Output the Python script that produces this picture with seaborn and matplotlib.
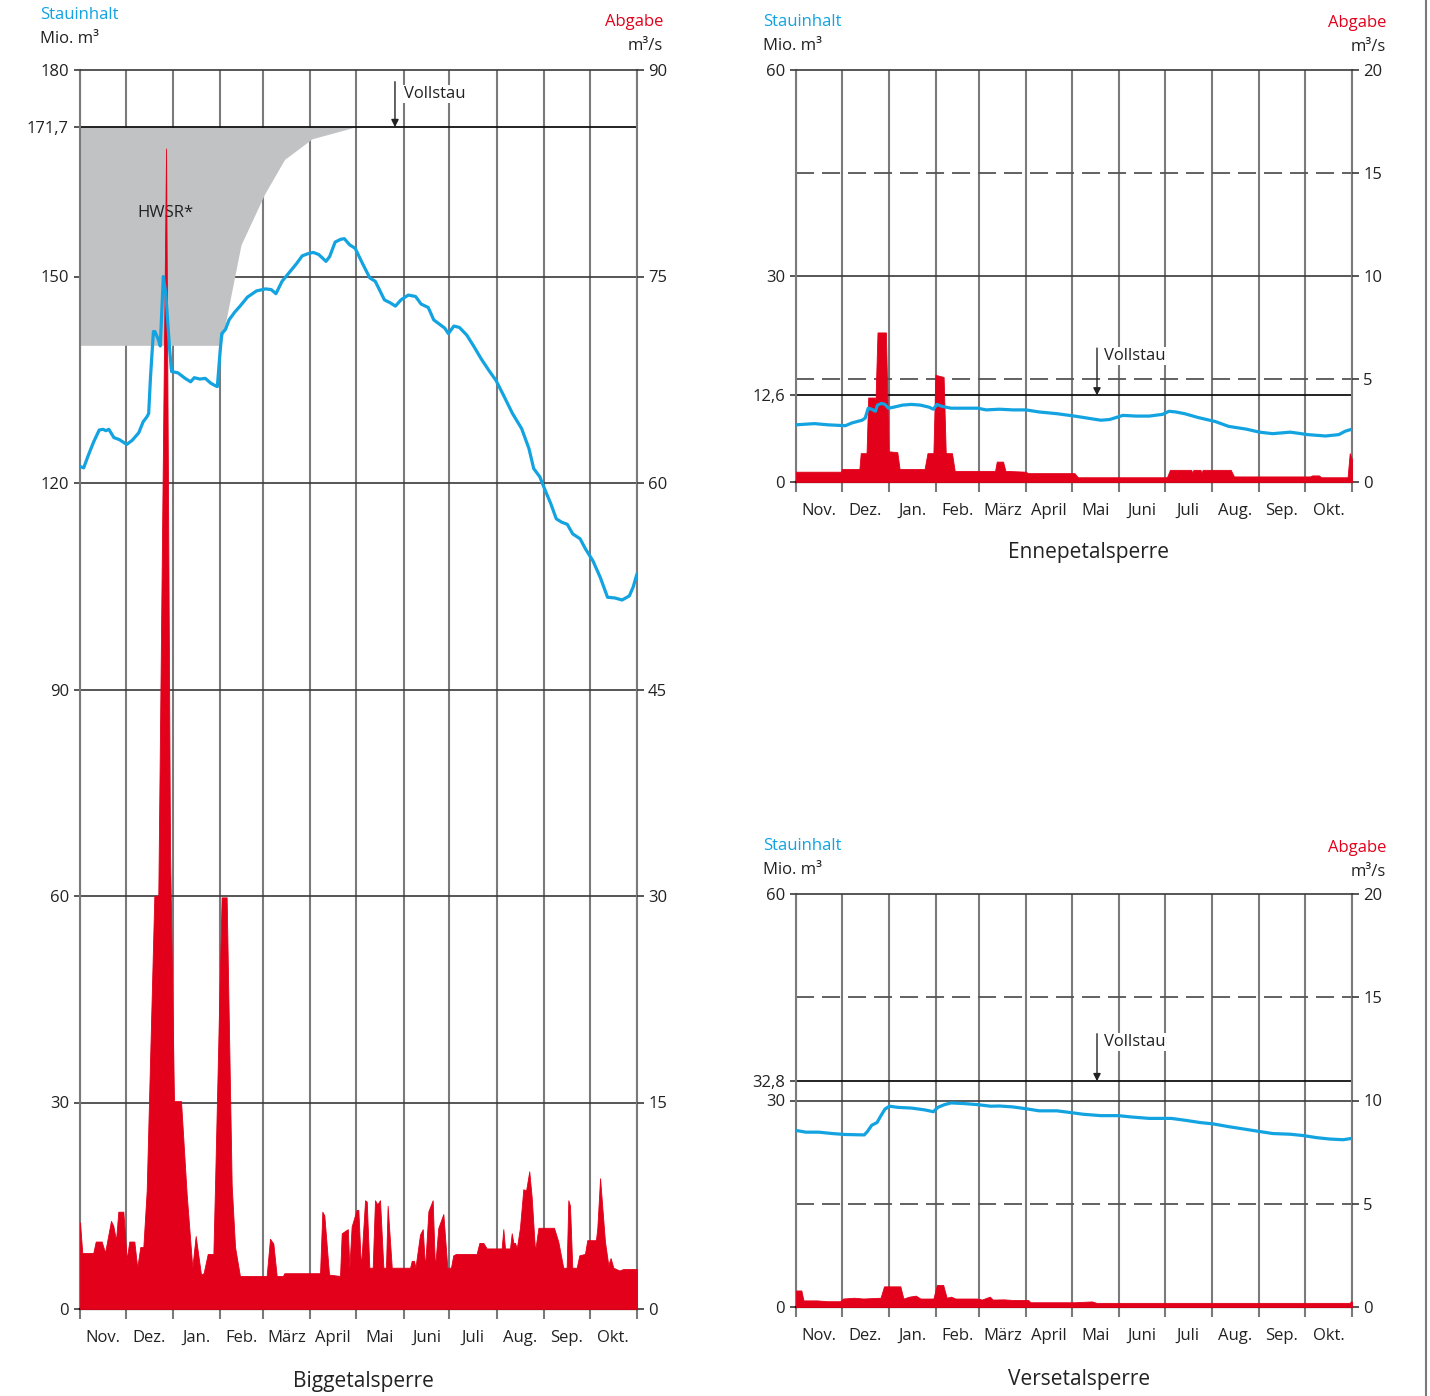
import numpy as np
import pandas as pd
import matplotlib
matplotlib.use("Agg")
import matplotlib.pyplot as plt
import seaborn as sns
from matplotlib.lines import Line2D

sns.set_theme(style="white")
plt.rcParams['font.family'] = ['Open Sans', 'DejaVu Sans']

BLUE = '#12a3e0'
RED = '#e2001a'
GREY_FILL = '#c1c2c4'
GRID = '#7a7a7a'
HL = '#3a3a3a'
TXT = '#222222'

months = ['Nov.', 'Dez.', 'Jan.', 'Feb.', 'März', 'April', 'Mai', 'Juni', 'Juli', 'Aug.', 'Sep.', 'Okt.']
month_days = [30, 31, 31, 28, 31, 30, 31, 30, 31, 31, 30, 31]

# ---------------- Biggetalsperre ----------------
big_s_day = [0, 2.4, 5.4, 9.0, 12.6, 15.1, 17.0, 18.9, 22.2, 25.8, 30.6, 34.2, 38.5, 41.4, 43.8, 45.0, 46.2, 48.1, 49.1, 51.4,
             52.6, 54.6, 56.2, 58.6, 60.0, 64.2, 68.9, 72.5, 74.9, 78.5, 82.1, 85.7, 88.1, 90.0, 91.7, 92.9, 95.3, 97.7, 101.3,
             104.9, 109.7, 115.6, 121.6, 125.3, 128.4, 132.4, 137.2, 142.0, 145.6, 149.2, 152.8, 156.4, 161.2, 163.6, 167.2,
             170.8, 173.2, 176.7, 180.3, 185.1, 189.9, 193.5, 199.5, 203.1, 206.7, 210.3, 215.1, 219.9, 223.5, 228.2, 231.8,
             235.4, 239.0, 241.4, 245.0, 248.6, 253.4, 258.2, 263.0, 267.8, 272.6, 277.4, 283.4, 289.4, 294.2, 297.3, 301.3,
             304.9, 308.5, 312.1, 315.7, 319.3, 322.9, 327.7, 331.3, 336.1, 340.9, 345.7, 350.5, 355.2, 360.0, 362.5, 365.0]
big_s_val = [122.4, 122.2, 124.0, 126.0, 127.7, 127.8, 127.6, 127.8, 126.6, 126.3, 125.6, 126.2, 127.3, 128.9, 129.6, 130.1,
             135.4, 142.0, 142.0, 140.8, 139.9, 150.0, 147.6, 139.8, 136.2, 136.0, 135.2, 134.7, 135.3, 135.1, 135.2, 134.5,
             134.2, 134.0, 138.8, 141.7, 142.3, 143.7, 144.8, 145.7, 147.0, 147.9, 148.2, 148.1, 147.5, 149.3, 150.6, 151.9,
             153.0, 153.3, 153.5, 153.2, 152.2, 152.9, 155.0, 155.4, 155.5, 154.6, 154.1, 151.9, 149.8, 149.3, 146.6, 146.2,
             145.7, 146.6, 147.3, 147.1, 146.0, 145.5, 143.7, 143.1, 142.5, 141.7, 142.8, 142.6, 141.5, 139.8, 138.0, 136.4,
             134.9, 132.8, 130.1, 127.9, 125.0, 122.1, 120.9, 118.9, 117.0, 114.8, 114.3, 114.0, 112.6, 111.9, 110.4, 108.7,
             106.3, 103.4, 103.3, 103.0, 103.6, 104.9, 106.8]
big_q_day = [0, 1.5, 8.7, 10.3, 14.2, 16.4, 20.3, 21.8, 23.6, 25.1, 28.4, 30.6, 32.3, 35.6, 37.5, 39.5, 41.5, 43.7, 48.7, 51.3,
             56.4, 59.0, 61.6, 66.2, 69.9, 73.6, 75.8, 79.3, 81.0, 83.7, 87.4, 88.5, 92.8, 96.1, 99.4, 101.6, 104.8, 122.3,
             124.5, 126.7, 128.9, 133.0, 133.9, 157.3, 158.8, 160.1, 163.2, 170.4, 171.5, 175.5, 176.5, 178.0, 181.3, 182.4,
             184.1, 186.8, 187.9, 189.6, 191.8, 193.3, 194.8, 196.6, 198.8, 200.5, 201.6, 204.3, 216.3, 217.4, 218.9, 219.8,
             222.8, 224.6, 226.1, 228.3, 231.1, 232.6, 234.8, 238.1, 240.7, 243.1, 244.6, 246.4, 259.9, 261.7, 264.3, 266.5,
             276.3, 277.4, 278.5, 281.8, 282.9, 284.0, 285.1, 286.2, 288.3, 290.5, 292.3, 294.4, 296.0, 298.2, 300.4, 301.4,
             310.6, 313.4, 316.7, 318.9, 320.0, 321.1, 322.6, 325.5, 327.2, 330.9, 332.4, 338.1, 339.0, 340.8, 344.0, 346.2,
             347.7, 349.5, 353.4, 356.0, 365.0]
big_q_val = [6.3, 4.07, 4.07, 4.9, 4.9, 4.1, 6.4, 6.05, 5.0, 7.07, 7.07, 3.6, 4.9, 4.9, 3.0, 4.5, 4.5, 8.6, 30.0, 30.0,
             84.3, 33.3, 15.1, 15.1, 8.35, 3.0, 5.3, 2.5, 2.6, 4.0, 4.0, 9.1, 29.9, 29.9, 9.0, 4.5, 2.4, 2.4,
             5.1, 4.75, 2.4, 2.4, 2.6, 2.6, 7.07, 6.8, 2.5, 2.4, 5.5, 5.8, 3.0, 6.0, 7.2, 7.2,
             3.0, 7.9, 7.8, 3.0, 3.0, 7.9, 7.6, 7.9, 3.0, 3.0, 7.5, 3.0, 3.0, 3.5, 3.5, 3.0,
             5.4, 5.8, 3.0, 7.1, 7.9, 3.0, 5.9, 6.9, 3.0, 3.0, 3.9, 4.0, 4.0, 4.8, 4.8, 4.4,
             4.4, 5.8, 4.4, 4.4, 5.5, 4.8, 4.8, 4.4, 5.9, 8.7, 8.6, 10.0, 8.1, 4.2, 5.9, 5.9,
             5.9, 4.9, 3.0, 3.0, 7.9, 7.5, 3.0, 3.0, 3.9, 4.0, 5.0, 5.0, 5.9, 9.5, 4.9, 3.2,
             3.7, 3.0, 2.8, 2.9, 2.9]
hwsr_day = [0, 92.4, 105.5, 121.0, 134.0, 152.0, 180.0]
hwsr_low = [140.0, 140.0, 154.6, 162.0, 167.0, 170.0, 171.7]

# ---------------- Ennepetalsperre ----------------
enn_s_day = [0, 12.1, 20.8, 32.4, 36.7, 43.4, 45.4, 47.4, 49.7, 52.1, 53.5, 56.1, 58.4, 60.7, 64.2, 70.0, 75.8, 81.6, 87.3,
             90.2, 92.5, 96.0, 101.8, 110.5, 119.2, 124.9, 133.6, 142.3, 150.9, 159.6, 171.2, 182.8, 191.4, 200.1, 205.9,
             214.6, 223.3, 231.9, 240.6, 244.9, 249.3, 255.1, 263.8, 275.3, 284.0, 295.6, 304.2, 312.9, 324.5, 336.0, 347.6,
             356.3, 360.6, 365.0]
enn_s_val = [8.33, 8.5, 8.33, 8.2, 8.6, 9.0, 9.3, 10.75, 10.6, 10.3, 11.2, 11.45, 11.3, 10.75, 10.9, 11.2, 11.3, 11.2, 10.9,
             10.6, 11.3, 11.0, 10.75, 10.75, 10.75, 10.5, 10.6, 10.5, 10.5, 10.2, 9.95, 9.6, 9.3, 9.0, 9.1,
             9.7, 9.6, 9.6, 9.85, 10.3, 10.2, 9.95, 9.4, 8.8, 8.1, 7.7, 7.26, 7.04, 7.26, 6.9, 6.7,
             6.9, 7.4, 7.7]
enn_q_day = [0, 29.5, 30.1, 41.6, 42.5, 46.3, 47.4, 51.5, 52.2, 53.5, 59.0, 60.8, 66.5, 68.0, 84.4, 86.3, 90.2, 91.5, 96.9,
             98.3, 102.4, 104.2, 130.7, 131.8, 135.9, 137.5, 151.0, 152.0, 182.8, 185.0, 243.5, 245.5, 259.4, 260.2, 260.9,
             265.5, 266.2, 267.0, 285.4, 287.5, 337.5, 338.9, 343.3, 344.7, 362.1, 363.5, 365.0]
enn_q_val = [0.5, 0.5, 0.63, 0.63, 1.4, 1.4, 4.1, 4.1, 4.0, 7.26, 7.26, 1.49, 1.45, 0.63, 0.63, 1.4, 1.4, 5.2, 5.1,
             1.4, 1.4, 0.54, 0.54, 0.99, 0.99, 0.54, 0.5, 0.43, 0.43, 0.23, 0.23, 0.59, 0.59, 0.45, 0.59,
             0.59, 0.45, 0.59, 0.59, 0.27, 0.27, 0.32, 0.32, 0.23, 0.23, 1.4, 1.1]

# ---------------- Versetalsperre ----------------
ver_s_day = [0, 6.4, 15.0, 23.7, 32.4, 44.8, 46.9, 49.7, 53.2, 55.5, 58.4, 61.3, 67.1, 75.8, 84.4, 90.2, 93.1, 97.5, 101.8,
             110.5, 119.2, 127.8, 133.6, 142.3, 151.0, 159.6, 171.2, 179.9, 188.6, 200.1, 211.7, 220.4, 231.9, 246.4, 255.1,
             265.2, 273.9, 284.0, 295.6, 304.2, 312.9, 324.5, 333.2, 341.8, 350.5, 359.2, 365.0]
ver_s_val = [25.65, 25.4, 25.4, 25.2, 25.06, 25.0, 25.5, 26.4, 26.8, 27.7, 28.75, 29.17, 29.0, 28.9, 28.64, 28.37, 29.0,
             29.4, 29.65, 29.55, 29.4, 29.17, 29.2, 29.07, 28.8, 28.5, 28.5, 28.26, 28.0, 27.8, 27.8, 27.6, 27.4, 27.4,
             27.14, 26.8, 26.6, 26.2, 25.8, 25.5, 25.2, 25.1, 24.9, 24.6, 24.4, 24.3, 24.5]
ver_q_day = [0, 3.5, 4.9, 13.6, 20.8, 28.9, 30.9, 38.2, 44.0, 55.5, 57.8, 68.5, 70.5, 74.3, 78.7, 81.6, 90.2, 92.5, 96.6,
             98.9, 101.8, 104.7, 119.2, 122.0, 127.2, 129.2, 136.5, 142.3, 152.4, 153.9, 182.8, 194.3, 197.2, 363.5, 364.4,
             365.0]
ver_q_val = [0.8, 0.8, 0.32, 0.32, 0.28, 0.28, 0.41, 0.45, 0.41, 0.45, 1.0, 1.0, 0.41, 0.5, 0.55, 0.41, 0.41, 1.07, 1.07,
             0.45, 0.5, 0.41, 0.41, 0.36, 0.5, 0.36, 0.37, 0.34, 0.34, 0.23, 0.23, 0.27, 0.2, 0.2, 0.28, 0.25]

for a, b in [(big_s_day, big_s_val), (big_q_day, big_q_val), (enn_s_day, enn_s_val), (enn_q_day, enn_q_val),
             (ver_s_day, ver_s_val), (ver_q_day, ver_q_val), (hwsr_day, hwsr_low)]:
    assert len(a) == len(b), (len(a), len(b))

W, H = 1430, 1396
fig = plt.figure(figsize=(W / 100, H / 100), dpi=100)
fig.patch.set_facecolor('white')

bounds = np.concatenate([[0], np.cumsum(month_days)])
centers = (bounds[:-1] + bounds[1:]) / 2


def rect(x0, y0, x1, y1):
    return [x0 / W, 1 - y1 / H, (x1 - x0) / W, (y1 - y0) / H]


def ftext(x, y, s, **kw):
    fig.text(x / W, 1 - y / H, s, va='center', **kw)


def panel(r, lmax, rmax, lticks, llabels, rticks, solid, dashed, full, s_day, s_val, q_day, q_val,
          arrow, title, title_xy, header):
    ax = fig.add_axes(r)
    ax.set_facecolor('white')
    ax.set_xlim(0, 365)
    ax.set_ylim(0, lmax)
    ax.set_xticks(bounds)
    ax.set_xticklabels([])
    ax.set_xticks(centers, minor=True)
    ax.set_xticklabels(months, minor=True)
    ax.tick_params(axis='x', which='major', bottom=True, length=7, width=1.5, color=GRID, direction='out')
    ax.tick_params(axis='x', which='minor', bottom=True, length=0, pad=23.5, labelsize=12, labelcolor=TXT)
    for lab in ax.get_xticklabels(minor=True):
        lab.set_va('baseline')
    ax.grid(axis='x', which='major', color=GRID, lw=1.5)
    ax.set_yticks(lticks)
    ax.set_yticklabels(llabels)
    ax.tick_params(axis='y', left=True, length=4, width=1.2, color=HL, pad=4, labelsize=12, labelcolor=TXT)
    for v in solid:
        ax.axhline(v, color=HL, lw=1.2, zorder=0.6)
    for v in dashed:
        ax.axhline(v, color='#555555', lw=1.3, ls=(0, (10, 4.4)), zorder=0.6)
    ax.axhline(full, color='#111111', lw=1.3, zorder=2)
    for side in ['left', 'right']:
        ax.spines[side].set_color(GRID)
        ax.spines[side].set_linewidth(1.5)
    ax.spines['top'].set_color(HL)
    ax.spines['top'].set_linewidth(1.2)
    ax.spines['bottom'].set_color('#111111')
    ax.spines['bottom'].set_linewidth(1.6)

    # discharge (right axis)
    ax2 = ax.twinx()
    ax2.set_ylim(0, rmax)
    ax2.set_yticks(rticks)
    ax2.tick_params(axis='y', right=True, length=5, width=1.2, color=HL, pad=3, labelsize=12, labelcolor=TXT)
    for s in ax2.spines.values():
        s.set_visible(False)
    ax2.fill_between(q_day, q_val, 0, color=RED, lw=0.6, edgecolor=RED)
    ax2.set_xlim(0, 365)
    ax2.set_ylim(0, rmax)

    # storage line
    ax3 = ax.twinx()
    sns.lineplot(x=s_day, y=s_val, ax=ax3, color=BLUE, lw=2.3, sort=False, estimator=None)
    ax3.set_ylim(0, lmax)
    ax3.set_xlim(0, 365)
    ax3.axis('off')

    ax_day, ax_top, t_day, t_val = arrow
    ax3.annotate('', xy=(ax_day, full), xytext=(ax_day, ax_top),
                 arrowprops=dict(arrowstyle='-|>', color='#222222', lw=1.0, mutation_scale=11,
                                 shrinkA=0, shrinkB=0))
    ax3.text(t_day, t_val, 'Vollstau', ha='left', va='center', fontsize=12, color=TXT,
             bbox=dict(facecolor='white', edgecolor='none', pad=0.5))

    ftext(title_xy[0], title_xy[1], title, ha='center', fontsize=15, color=TXT)
    (sx, sy), (ex, ey) = header
    ftext(sx, sy, 'Stauinhalt', ha='left', fontsize=12, color=BLUE)
    ftext(sx, sy + 24, 'Mio. m³', ha='left', fontsize=12, color=TXT)
    ftext(ex, ey, 'Abgabe', ha='right', fontsize=12, color=RED)
    ftext(ex, ey + 24, 'm³/s', ha='right', fontsize=12, color=TXT)
    return ax, ax2, ax3


# Biggetalsperre
axb, axb2, axb3 = panel(rect(80, 70, 637, 1309), 180, 90,
                        [0, 30, 60, 90, 120, 150, 171.7, 180],
                        ['0', '30', '60', '90', '120', '150', '171,7', '180'],
                        [0, 15, 30, 45, 60, 75, 90],
                        [30, 60, 90, 120, 150], [], 171.7,
                        big_s_day, big_s_val, big_q_day, big_q_val,
                        (206.4, 178.3, 212.3, 176.5), 'Biggetalsperre', (363, 1381),
                        ((40, 15), (663, 22)))
axb.fill_between(hwsr_day, hwsr_low, 171.7, color=GREY_FILL, lw=0, zorder=1)
axb.text(55.7, 159.2, 'HWSR*', ha='center', va='center', fontsize=12, color=TXT, zorder=1.5)

# Ennepetalsperre
panel(rect(796, 70, 1352, 482), 60, 20,
      [0, 12.6, 30, 60], ['0', '12,6', '30', '60'],
      [0, 5, 10, 15, 20],
      [30], [15, 45], 12.6,
      enn_s_day, enn_s_val, enn_q_day, enn_q_val,
      (197.6, 19.5, 202.2, 18.35), 'Ennepetalsperre', (1089, 553),
      ((763, 22), (1386, 23)))

# Versetalsperre
panel(rect(796, 894, 1352, 1307), 60, 20,
      [0, 30, 32.8, 60], ['0', '30', '32,8', '60'],
      [0, 5, 10, 15, 20],
      [30], [15, 45], 32.8,
      ver_s_day, ver_s_val, ver_q_day, ver_q_val,
      (197.6, 39.7, 202.2, 38.5), 'Versetalsperre', (1079, 1379),
      ((763, 846), (1386, 848)))

fig.add_artist(Line2D([1426 / W, 1426 / W], [0, 1], color='#7a7a7a', lw=1.5, transform=fig.transFigure))

fig.savefig('out.png', dpi=100, facecolor='white')
